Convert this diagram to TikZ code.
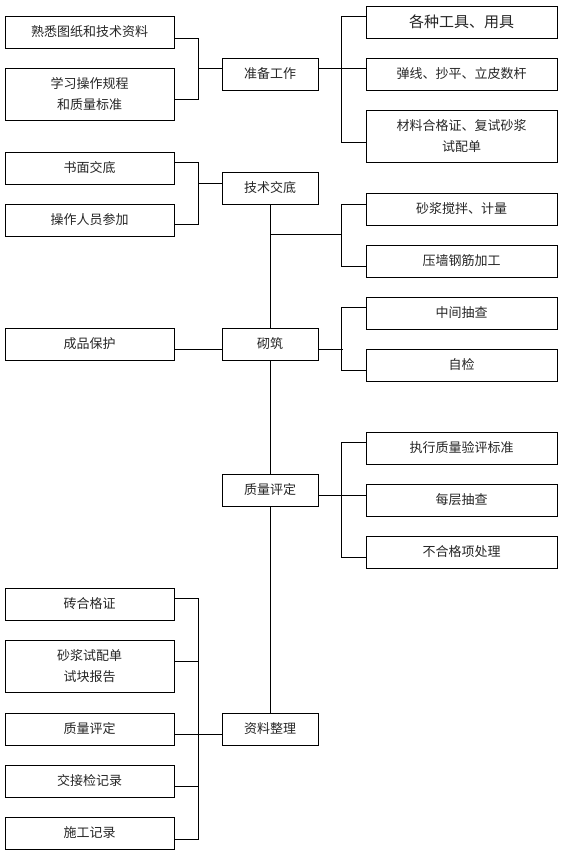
\documentclass[tikz,border=0pt]{standalone}
\usepackage{fontspec}
\newfontfamily\cjk{Noto Sans CJK SC}
\begin{document}
\begin{tikzpicture}[x=1pt,y=-1pt,
  font=\cjk\fontsize{13}{21}\selectfont,
  box/.style={draw, line width=1pt, inner sep=0pt, align=center, text=black!85},
  lbox/.style={box, minimum width=169pt},
  cbox/.style={box, minimum width=96pt},
  rbox/.style={box, minimum width=191pt},
  one/.style={minimum height=32pt},
  two/.style={minimum height=52pt},
  wire/.style={line width=1pt}]
\fill[white] (0,0) rectangle (565,852);
\useasboundingbox (0,0) rectangle (565,852);
% left column
\node[lbox,one] (L1) at (89.5,32) {熟悉图纸和技术资料};
\node[lbox,two] (L2) at (89.5,94) {学习操作规程\\和质量标准};
\node[lbox,one] (L3) at (89.5,168) {书面交底};
\node[lbox,one] (L4) at (89.5,220) {操作人员参加};
\node[lbox,one] (L5) at (89.5,344) {成品保护};
\node[lbox,one] (L6) at (89.5,604) {砖合格证};
\node[lbox,two] (L7) at (89.5,666) {砂浆试配单\\试块报告};
\node[lbox,one] (L8) at (89.5,729) {质量评定};
\node[lbox,one] (L9) at (89.5,781) {交接检记录};
\node[lbox,one] (L10) at (89.5,833) {施工记录};
% center column
\node[cbox,one] (C1) at (270,74) {准备工作};
\node[cbox,one] (C2) at (270,188) {技术交底};
\node[cbox,one] (C3) at (270,344) {砌筑};
\node[cbox,one] (C4) at (270,490) {质量评定};
\node[cbox,one] (C5) at (270,729) {资料整理};
% right column
\node[rbox,one,font=\cjk\fontsize{15}{21}\selectfont] (R1) at (461.5,22) {各种工具、用具};
\node[rbox,one] (R2) at (461.5,74) {弹线、抄平、立皮数杆};
\node[rbox,two] (R3) at (461.5,136) {材料合格证、复试砂浆\\试配单};
\node[rbox,one] (R4) at (461.5,209) {砂浆搅拌、计量};
\node[rbox,one] (R5) at (461.5,261) {压墙钢筋加工};
\node[rbox,one] (R6) at (461.5,313) {中间抽查};
\node[rbox,one] (R7) at (461.5,365) {自检};
\node[rbox,one] (R8) at (461.5,448) {执行质量验评标准};
\node[rbox,one] (R9) at (461.5,500) {每层抽查};
\node[rbox,one] (R10) at (461.5,552) {不合格项处理};
% connectors: 准备工作
\draw[wire] ([yshift=-6pt]L1.east) -- ++(24,0) |- ([yshift=-5pt]L2.east);
\draw[wire] ([yshift=6pt]C1.west) -- ++(-24,0);
\draw[wire] ([yshift=6pt]R1.west) -- ++(-24,0) |- ([yshift=-6pt]R3.west);
\draw[wire] ([yshift=6pt]C1.east) -- ([yshift=6pt]R2.west);
% 技术交底
\draw[wire] ([yshift=6pt]L3.east) -- ++(24,0) |- ([yshift=-4pt]L4.east);
\draw[wire] ([yshift=5pt]C2.west) -- ++(-24,0);
\draw[wire] (C2.south) -- (C3.north);
\draw[wire] ([yshift=5pt]R4.west) -- ++(-24,0) |- ([yshift=-5pt]R5.west);
\coordinate (k1) at ([yshift=-30pt]C2.south);
\draw[wire] (k1) -- ++(72,0);
% 砌筑
\draw[wire] ([yshift=-5pt]L5.east) -- ([yshift=-5pt]C3.west);
\draw[wire] ([yshift=-5pt]C3.east) -- ++(24,0);
\draw[wire] ([yshift=6pt]R6.west) -- ++(-24,0) |- ([yshift=-5pt]R7.west);
\draw[wire] (C3.south) -- (C4.north);
% 质量评定
\draw[wire] ([yshift=-5pt]C4.east) -- ([yshift=-5pt]C4.east -| R9.west);
\draw[wire] ([yshift=6pt]R8.west) -- ++(-24,0) |- ([yshift=-5pt]R10.west);
\draw[wire] (C4.south) -- (C5.north);
% 资料整理
\draw[wire] ([yshift=6pt]L6.east) -- ++(24,0) |- ([yshift=-6pt]L10.east);
\draw[wire] ([yshift=5pt]L7.east) -- ++(24,0);
\draw[wire] ([yshift=-5pt]L8.east) -- ([yshift=-5pt]C5.west);
\draw[wire] ([yshift=-5pt]L9.east) -- ++(24,0);
\end{tikzpicture}
\end{document}
